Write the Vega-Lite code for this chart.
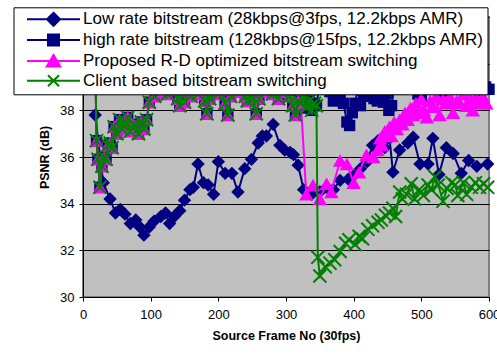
{
  "$schema": "https://vega.github.io/schema/vega-lite/v6.json",
  "width": 406,
  "height": 280,
  "autosize": {"type": "none"},
  "padding": {"left": 83, "top": 17, "right": 8, "bottom": 57},
  "background": "white",
  "config": {
    "view": {"fill": "#C0C0C0", "stroke": "#808080", "strokeWidth": 2},
    "axis": {
      "labelFont": "Liberation Sans", "labelFontSize": 13, "labelColor": "black",
      "titleFont": "Liberation Sans", "titleFontSize": 12.5, "titleFontWeight": "bold", "titleColor": "black",
      "domainColor": "black", "tickColor": "black", "tickSize": 4, "domainWidth": 1, "tickWidth": 1,
      "labelFlush": false
    }
  },
  "datasets": {
    "names": [
      {"k": "L", "series": "Low rate bitstream (28kbps@3fps, 12.2kbps AMR)"},
      {"k": "H", "series": "high rate bitstream (128kbps@15fps, 12.2kbps AMR)"},
      {"k": "P", "series": "Proposed R-D optimized bitstream switching"},
      {"k": "C", "series": "Client based bitstream switching"}
    ],
    "pts": [
      {"k":"L","f":18,"v":37.8},{"k":"L","f":30,"v":34.9},{"k":"L","f":40,"v":34.2},{"k":"L","f":48,"v":33.6},{"k":"L","f":55,"v":33.75},{"k":"L","f":62,"v":33.55},{"k":"L","f":70,"v":33.15},{"k":"L","f":78,"v":33.3},{"k":"L","f":84,"v":33.0},{"k":"L","f":90,"v":32.65},{"k":"L","f":98,"v":33.0},{"k":"L","f":105,"v":33.25},{"k":"L","f":115,"v":33.45},{"k":"L","f":122,"v":33.6},{"k":"L","f":128,"v":33.15},{"k":"L","f":135,"v":33.45},{"k":"L","f":143,"v":33.7},{"k":"L","f":150,"v":34.15},{"k":"L","f":158,"v":34.6},{"k":"L","f":163,"v":34.7},{"k":"L","f":170,"v":35.7},{"k":"L","f":178,"v":34.9},{"k":"L","f":185,"v":34.8},{"k":"L","f":193,"v":34.4},{"k":"L","f":200,"v":35.8},{"k":"L","f":210,"v":35.3},{"k":"L","f":220,"v":35.3},{"k":"L","f":229,"v":34.5},{"k":"L","f":239,"v":35.5},{"k":"L","f":249,"v":35.9},{"k":"L","f":259,"v":36.6},{"k":"L","f":265,"v":36.9},{"k":"L","f":271,"v":36.9},{"k":"L","f":281,"v":37.4},{"k":"L","f":291,"v":36.5},{"k":"L","f":298,"v":36.3},{"k":"L","f":306,"v":36.2},{"k":"L","f":311,"v":36.1},{"k":"L","f":318,"v":35.65},{"k":"L","f":326,"v":34.6},{"k":"L","f":338,"v":34.4},{"k":"L","f":350,"v":34.5},{"k":"L","f":360,"v":34.7},{"k":"L","f":370,"v":34.6},{"k":"L","f":380,"v":35.0},{"k":"L","f":392,"v":35.05},{"k":"L","f":400,"v":35.2},{"k":"L","f":410,"v":35.5},{"k":"L","f":420,"v":35.8},{"k":"L","f":428,"v":36.5},{"k":"L","f":436,"v":36.7},{"k":"L","f":446,"v":36.4},{"k":"L","f":453,"v":36.8},{"k":"L","f":458,"v":35.35},{"k":"L","f":468,"v":36.3},{"k":"L","f":480,"v":36.6},{"k":"L","f":488,"v":36.85},{"k":"L","f":498,"v":35.7},{"k":"L","f":510,"v":35.7},{"k":"L","f":517,"v":36.8},{"k":"L","f":526,"v":35.25},{"k":"L","f":537,"v":36.4},{"k":"L","f":547,"v":36.15},{"k":"L","f":559,"v":35.3},{"k":"L","f":570,"v":35.85},{"k":"L","f":582,"v":35.6},{"k":"L","f":598,"v":35.7},

      {"k":"H","f":18,"v":40.5},{"k":"H","f":20,"v":36.7},{"k":"H","f":22,"v":35.9},{"k":"H","f":25,"v":34.7},{"k":"H","f":28,"v":35.6},{"k":"H","f":31,"v":36.0},{"k":"H","f":34,"v":35.9},{"k":"H","f":37,"v":36.5},{"k":"H","f":40,"v":36.6},{"k":"H","f":43,"v":36.4},{"k":"H","f":46,"v":37.3},{"k":"H","f":50,"v":37.0},{"k":"H","f":54,"v":37.6},{"k":"H","f":58,"v":37.2},{"k":"H","f":62,"v":37.5},{"k":"H","f":66,"v":37.7},{"k":"H","f":70,"v":37.1},{"k":"H","f":74,"v":37.4},{"k":"H","f":78,"v":37.35},{"k":"H","f":82,"v":37.0},{"k":"H","f":86,"v":37.5},{"k":"H","f":90,"v":37.2},{"k":"H","f":94,"v":37.6},{"k":"H","f":98,"v":38.35},{"k":"H","f":102,"v":39.2},{"k":"H","f":106,"v":38.6},{"k":"H","f":110,"v":39.0},{"k":"H","f":115,"v":38.8},{"k":"H","f":120,"v":39.3},{"k":"H","f":125,"v":38.7},{"k":"H","f":130,"v":38.9},{"k":"H","f":135,"v":39.3},{"k":"H","f":140,"v":38.5},{"k":"H","f":143,"v":38.2},{"k":"H","f":147,"v":38.9},{"k":"H","f":150,"v":38.35},{"k":"H","f":155,"v":38.9},{"k":"H","f":160,"v":38.6},{"k":"H","f":165,"v":39.1},{"k":"H","f":170,"v":38.7},{"k":"H","f":175,"v":38.9},{"k":"H","f":180,"v":38.4},{"k":"H","f":183,"v":37.85},{"k":"H","f":187,"v":38.5},{"k":"H","f":191,"v":38.9},{"k":"H","f":195,"v":39.2},{"k":"H","f":200,"v":38.7},{"k":"H","f":205,"v":38.9},{"k":"H","f":210,"v":38.3},{"k":"H","f":214,"v":37.8},{"k":"H","f":218,"v":38.6},{"k":"H","f":222,"v":38.9},{"k":"H","f":226,"v":39.3},{"k":"H","f":230,"v":38.8},{"k":"H","f":235,"v":38.9},{"k":"H","f":240,"v":38.6},{"k":"H","f":243,"v":38.4},{"k":"H","f":247,"v":38.9},{"k":"H","f":252,"v":38.5},{"k":"H","f":256,"v":37.85},{"k":"H","f":260,"v":38.5},{"k":"H","f":264,"v":38.9},{"k":"H","f":268,"v":39.2},{"k":"H","f":272,"v":38.8},{"k":"H","f":276,"v":39.0},{"k":"H","f":280,"v":38.7},{"k":"H","f":285,"v":38.9},{"k":"H","f":289,"v":38.5},{"k":"H","f":293,"v":38.8},{"k":"H","f":297,"v":39.1},{"k":"H","f":301,"v":38.9},{"k":"H","f":305,"v":38.6},{"k":"H","f":310,"v":38.2},{"k":"H","f":314,"v":37.8},{"k":"H","f":318,"v":38.4},{"k":"H","f":322,"v":38.3},
      {"k":"H","f":326,"v":38.5},{"k":"H","f":330,"v":38.1},{"k":"H","f":334,"v":38.4},{"k":"H","f":338,"v":38.0},{"k":"H","f":342,"v":38.3},{"k":"H","f":345,"v":38.2},
      {"k":"H","f":350,"v":39.2},{"k":"H","f":355,"v":38.9},{"k":"H","f":360,"v":39.4},{"k":"H","f":365,"v":38.8},{"k":"H","f":370,"v":38.4},{"k":"H","f":375,"v":39.0},{"k":"H","f":380,"v":38.6},{"k":"H","f":385,"v":38.3},{"k":"H","f":390,"v":37.5},{"k":"H","f":394,"v":37.35},{"k":"H","f":398,"v":37.9},{"k":"H","f":402,"v":38.3},{"k":"H","f":406,"v":38.9},{"k":"H","f":410,"v":38.2},{"k":"H","f":415,"v":38.6},{"k":"H","f":420,"v":39.2},{"k":"H","f":425,"v":38.8},{"k":"H","f":430,"v":38.5},{"k":"H","f":435,"v":38.4},{"k":"H","f":440,"v":38.9},{"k":"H","f":444,"v":38.35},{"k":"H","f":448,"v":38.7},{"k":"H","f":452,"v":38.0},{"k":"H","f":456,"v":38.2},{"k":"H","f":460,"v":39.0},{"k":"H","f":465,"v":39.3},{"k":"H","f":470,"v":38.9},{"k":"H","f":475,"v":39.2},{"k":"H","f":480,"v":39.4},{"k":"H","f":485,"v":39.0},{"k":"H","f":490,"v":39.2},{"k":"H","f":495,"v":38.7},{"k":"H","f":500,"v":38.55},{"k":"H","f":505,"v":39.1},{"k":"H","f":510,"v":39.3},{"k":"H","f":515,"v":38.9},{"k":"H","f":520,"v":39.2},{"k":"H","f":525,"v":39.0},{"k":"H","f":530,"v":38.6},{"k":"H","f":535,"v":38.5},{"k":"H","f":540,"v":39.1},{"k":"H","f":545,"v":39.3},{"k":"H","f":550,"v":38.9},{"k":"H","f":555,"v":39.2},{"k":"H","f":560,"v":39.0},{"k":"H","f":565,"v":39.3},{"k":"H","f":570,"v":38.9},{"k":"H","f":575,"v":39.2},{"k":"H","f":580,"v":39.1},{"k":"H","f":585,"v":38.8},{"k":"H","f":590,"v":39.2},{"k":"H","f":595,"v":39.0},{"k":"H","f":600,"v":38.9},

      {"k":"P","f":18,"v":40.5},{"k":"P","f":20,"v":36.7},{"k":"P","f":22,"v":35.9},{"k":"P","f":25,"v":34.7},{"k":"P","f":28,"v":35.6},{"k":"P","f":31,"v":36.0},{"k":"P","f":34,"v":35.9},{"k":"P","f":37,"v":36.5},{"k":"P","f":40,"v":36.6},{"k":"P","f":43,"v":36.4},{"k":"P","f":46,"v":37.3},{"k":"P","f":50,"v":37.0},{"k":"P","f":54,"v":37.6},{"k":"P","f":58,"v":37.2},{"k":"P","f":62,"v":37.5},{"k":"P","f":66,"v":37.7},{"k":"P","f":70,"v":37.1},{"k":"P","f":74,"v":37.4},{"k":"P","f":78,"v":37.35},{"k":"P","f":82,"v":37.0},{"k":"P","f":86,"v":37.5},{"k":"P","f":90,"v":37.2},{"k":"P","f":94,"v":37.6},{"k":"P","f":98,"v":38.35},{"k":"P","f":102,"v":39.2},{"k":"P","f":106,"v":38.6},{"k":"P","f":110,"v":39.0},{"k":"P","f":115,"v":38.8},{"k":"P","f":120,"v":39.3},{"k":"P","f":125,"v":38.7},{"k":"P","f":130,"v":38.9},{"k":"P","f":135,"v":39.3},{"k":"P","f":140,"v":38.5},{"k":"P","f":143,"v":38.2},{"k":"P","f":147,"v":38.9},{"k":"P","f":150,"v":38.35},{"k":"P","f":155,"v":38.9},{"k":"P","f":160,"v":38.6},{"k":"P","f":165,"v":39.1},{"k":"P","f":170,"v":38.7},{"k":"P","f":175,"v":38.9},{"k":"P","f":180,"v":38.4},{"k":"P","f":183,"v":37.85},{"k":"P","f":187,"v":38.5},{"k":"P","f":191,"v":38.9},{"k":"P","f":195,"v":39.2},{"k":"P","f":200,"v":38.7},{"k":"P","f":205,"v":38.9},{"k":"P","f":210,"v":38.3},{"k":"P","f":214,"v":37.8},{"k":"P","f":218,"v":38.6},{"k":"P","f":222,"v":38.9},{"k":"P","f":226,"v":39.3},{"k":"P","f":230,"v":38.8},{"k":"P","f":235,"v":38.9},{"k":"P","f":240,"v":38.6},{"k":"P","f":243,"v":38.4},{"k":"P","f":247,"v":38.9},{"k":"P","f":252,"v":38.5},{"k":"P","f":256,"v":37.85},{"k":"P","f":260,"v":38.5},{"k":"P","f":264,"v":38.9},{"k":"P","f":268,"v":39.2},{"k":"P","f":272,"v":38.8},{"k":"P","f":276,"v":39.0},{"k":"P","f":280,"v":38.7},{"k":"P","f":285,"v":38.9},{"k":"P","f":289,"v":38.5},{"k":"P","f":293,"v":38.8},{"k":"P","f":297,"v":39.1},{"k":"P","f":301,"v":38.9},{"k":"P","f":305,"v":38.6},{"k":"P","f":310,"v":38.2},{"k":"P","f":314,"v":37.8},{"k":"P","f":318,"v":38.4},{"k":"P","f":322,"v":38.3},
      {"k":"P","f":330,"v":34.4},{"k":"P","f":340,"v":34.8},{"k":"P","f":350,"v":34.2},{"k":"P","f":360,"v":34.85},{"k":"P","f":367,"v":34.5},{"k":"P","f":380,"v":35.85},{"k":"P","f":390,"v":35.7},{"k":"P","f":400,"v":34.9},{"k":"P","f":408,"v":35.35},{"k":"P","f":419,"v":36.1},{"k":"P","f":429,"v":36.0},{"k":"P","f":435,"v":36.3},{"k":"P","f":439,"v":36.8},{"k":"P","f":442,"v":36.5},{"k":"P","f":446,"v":37.1},{"k":"P","f":449,"v":36.9},{"k":"P","f":453,"v":37.3},{"k":"P","f":456,"v":36.9},{"k":"P","f":460,"v":37.5},{"k":"P","f":464,"v":37.2},{"k":"P","f":468,"v":37.6},{"k":"P","f":472,"v":37.4},{"k":"P","f":476,"v":37.9},{"k":"P","f":480,"v":37.6},{"k":"P","f":484,"v":38.1},{"k":"P","f":488,"v":37.8},{"k":"P","f":492,"v":38.3},{"k":"P","f":496,"v":37.9},{"k":"P","f":500,"v":38.5},{"k":"P","f":504,"v":38.0},{"k":"P","f":508,"v":37.7},{"k":"P","f":513,"v":38.4},{"k":"P","f":518,"v":38.15},{"k":"P","f":522,"v":38.6},{"k":"P","f":527,"v":37.8},{"k":"P","f":532,"v":38.5},{"k":"P","f":537,"v":38.3},{"k":"P","f":542,"v":38.6},{"k":"P","f":547,"v":37.9},{"k":"P","f":552,"v":38.4},{"k":"P","f":557,"v":38.3},{"k":"P","f":562,"v":38.7},{"k":"P","f":567,"v":38.2},{"k":"P","f":572,"v":38.5},{"k":"P","f":576,"v":38.0},{"k":"P","f":581,"v":38.6},{"k":"P","f":586,"v":38.3},{"k":"P","f":591,"v":38.6},{"k":"P","f":596,"v":38.3},

      {"k":"C","f":18,"v":40.5},{"k":"C","f":20,"v":36.7},{"k":"C","f":22,"v":35.9},{"k":"C","f":25,"v":34.7},{"k":"C","f":28,"v":35.6},{"k":"C","f":31,"v":36.0},{"k":"C","f":34,"v":35.9},{"k":"C","f":37,"v":36.5},{"k":"C","f":40,"v":36.6},{"k":"C","f":43,"v":36.4},{"k":"C","f":46,"v":37.3},{"k":"C","f":50,"v":37.0},{"k":"C","f":54,"v":37.6},{"k":"C","f":58,"v":37.2},{"k":"C","f":62,"v":37.5},{"k":"C","f":66,"v":37.7},{"k":"C","f":70,"v":37.1},{"k":"C","f":74,"v":37.4},{"k":"C","f":78,"v":37.35},{"k":"C","f":82,"v":37.0},{"k":"C","f":86,"v":37.5},{"k":"C","f":90,"v":37.2},{"k":"C","f":94,"v":37.6},{"k":"C","f":98,"v":38.35},{"k":"C","f":102,"v":39.2},{"k":"C","f":106,"v":38.6},{"k":"C","f":110,"v":39.0},{"k":"C","f":115,"v":38.8},{"k":"C","f":120,"v":39.3},{"k":"C","f":125,"v":38.7},{"k":"C","f":130,"v":38.9},{"k":"C","f":135,"v":39.3},{"k":"C","f":140,"v":38.5},{"k":"C","f":143,"v":38.2},{"k":"C","f":147,"v":38.9},{"k":"C","f":150,"v":38.35},{"k":"C","f":155,"v":38.9},{"k":"C","f":160,"v":38.6},{"k":"C","f":165,"v":39.1},{"k":"C","f":170,"v":38.7},{"k":"C","f":175,"v":38.9},{"k":"C","f":180,"v":38.4},{"k":"C","f":183,"v":37.85},{"k":"C","f":187,"v":38.5},{"k":"C","f":191,"v":38.9},{"k":"C","f":195,"v":39.2},{"k":"C","f":200,"v":38.7},{"k":"C","f":205,"v":38.9},{"k":"C","f":210,"v":38.3},{"k":"C","f":214,"v":37.8},{"k":"C","f":218,"v":38.6},{"k":"C","f":222,"v":38.9},{"k":"C","f":226,"v":39.3},{"k":"C","f":230,"v":38.8},{"k":"C","f":235,"v":38.9},{"k":"C","f":240,"v":38.6},{"k":"C","f":243,"v":38.4},{"k":"C","f":247,"v":38.9},{"k":"C","f":252,"v":38.5},{"k":"C","f":256,"v":37.85},{"k":"C","f":260,"v":38.5},{"k":"C","f":264,"v":38.9},{"k":"C","f":268,"v":39.2},{"k":"C","f":272,"v":38.8},{"k":"C","f":276,"v":39.0},{"k":"C","f":280,"v":38.7},{"k":"C","f":285,"v":38.9},{"k":"C","f":289,"v":38.5},{"k":"C","f":293,"v":38.8},{"k":"C","f":297,"v":39.1},{"k":"C","f":301,"v":38.9},{"k":"C","f":305,"v":38.6},{"k":"C","f":310,"v":38.2},{"k":"C","f":314,"v":37.8},{"k":"C","f":318,"v":38.4},{"k":"C","f":322,"v":38.3},
      {"k":"C","f":326,"v":38.5},{"k":"C","f":330,"v":38.1},{"k":"C","f":334,"v":38.4},{"k":"C","f":338,"v":38.0},{"k":"C","f":342,"v":38.3},{"k":"C","f":345,"v":38.2},
      {"k":"C","f":347,"v":31.7},{"k":"C","f":350,"v":30.9},{"k":"C","f":358,"v":31.3},{"k":"C","f":365,"v":31.45},{"k":"C","f":372,"v":31.6},{"k":"C","f":380,"v":31.95},{"k":"C","f":388,"v":32.3},{"k":"C","f":393,"v":32.45},{"k":"C","f":402,"v":32.25},{"k":"C","f":408,"v":32.6},{"k":"C","f":413,"v":32.5},{"k":"C","f":421,"v":32.9},{"k":"C","f":428,"v":33.05},{"k":"C","f":436,"v":33.2},{"k":"C","f":441,"v":33.3},{"k":"C","f":447,"v":33.5},{"k":"C","f":453,"v":33.6},{"k":"C","f":458,"v":33.8},{"k":"C","f":462,"v":33.45},{"k":"C","f":468,"v":34.5},{"k":"C","f":472,"v":34.2},{"k":"C","f":478,"v":34.4},{"k":"C","f":485,"v":34.85},{"k":"C","f":490,"v":34.2},{"k":"C","f":497,"v":34.6},{"k":"C","f":503,"v":34.35},{"k":"C","f":510,"v":34.8},{"k":"C","f":515,"v":34.6},{"k":"C","f":520,"v":35.15},{"k":"C","f":525,"v":34.8},{"k":"C","f":532,"v":34.1},{"k":"C","f":538,"v":34.65},{"k":"C","f":545,"v":34.9},{"k":"C","f":550,"v":34.8},{"k":"C","f":554,"v":34.35},{"k":"C","f":562,"v":34.9},{"k":"C","f":567,"v":34.4},{"k":"C","f":574,"v":34.7},{"k":"C","f":580,"v":34.9},{"k":"C","f":586,"v":34.7},{"k":"C","f":592,"v":34.85},{"k":"C","f":598,"v":34.7}
    ]
  },
  "data": {"name": "pts"},
  "transform": [
    {"lookup": "k", "from": {"data": {"name": "names"}, "key": "k", "fields": ["series"]}}
  ],
  "encoding": {
    "x": {
      "field": "f", "type": "quantitative",
      "scale": {"domain": [0, 600], "nice": false, "zero": false},
      "axis": {"values": [0, 100, 200, 300, 400, 500, 600], "grid": false, "title": "Source Frame No (30fps)", "labelPadding": 7, "titlePadding": 8}
    },
    "y": {
      "field": "v", "type": "quantitative",
      "scale": {"domain": [30, 42], "nice": false, "zero": false},
      "axis": {"values": [30, 32, 34, 36, 38, 40, 42], "grid": true, "gridColor": "black", "gridOpacity": 1, "gridWidth": 1, "title": "PSNR (dB)", "labelPadding": 5, "titlePadding": 8}
    },
    "color": {
      "field": "series", "type": "nominal",
      "scale": {
        "domain": ["Low rate bitstream (28kbps@3fps, 12.2kbps AMR)", "high rate bitstream (128kbps@15fps, 12.2kbps AMR)", "Proposed R-D optimized bitstream switching", "Client based bitstream switching"],
        "range": ["#000080", "#000080", "#FF00FF", "#008000"]
      },
      "legend": {
        "orient": "none", "legendX": -69.5, "legendY": -9.7,
        "title": null, "fillColor": "white", "strokeColor": "black",
        "padding": 3.5, "rowPadding": 0.8,
        "labelFont": "Liberation Sans", "labelFontSize": 17, "labelColor": "black", "labelLimit": 1000,
        "labelExpr": "datum.label + '        '",
        "symbolSize": 100, "symbolStrokeWidth": 2, "symbolOffset": 28, "labelOffset": 21,
        "encode": {
          "symbols": {
            "update": {
              "shape": {"signal": "['M-5.3,0H5.3M0,-1.3L1.3,0L0,1.3L-1.3,0Z','M-5.3,0H5.3M-1.1,-1.1H1.1V1.1H-1.1Z','M-5.3,0H5.3M0,-1.2L1.35,1.1H-1.35Z','M-5.3,0H5.3M-1.1,-1.1L1.1,1.1M-1.1,1.1L1.1,-1.1'][datum.index]"},
              "fill": {"signal": "['#000080','#000080','#FF00FF','transparent'][datum.index]"},
              "stroke": {"signal": "['#000080','#000080','#FF00FF','#008000'][datum.index]"},
              "strokeWidth": {"value": 2},
              "size": {"value": 100},
              "opacity": {"value": 1}
            }
          }
        }
      }
    }
  },
  "layer": [
    {"transform": [{"filter": {"field": "k", "equal": "L"}}], "mark": {"type": "line", "strokeWidth": 2, "point": {"shape": "diamond", "filled": true, "size": 180, "opacity": 1}}},
    {"transform": [{"filter": {"field": "k", "equal": "H"}}], "mark": {"type": "line", "strokeWidth": 2, "point": {"shape": "square", "filled": true, "size": 130, "opacity": 1}}},
    {"transform": [{"filter": {"field": "k", "equal": "P"}}], "mark": {"type": "line", "strokeWidth": 2, "point": {"shape": "triangle-up", "filled": true, "size": 210, "opacity": 1}}},
    {"transform": [{"filter": {"field": "k", "equal": "C"}}], "mark": {"type": "line", "strokeWidth": 2, "point": {"shape": "M-1,-1L1,1M-1,1L1,-1", "filled": false, "size": 170, "strokeWidth": 2, "opacity": 1}}}
  ]
}
